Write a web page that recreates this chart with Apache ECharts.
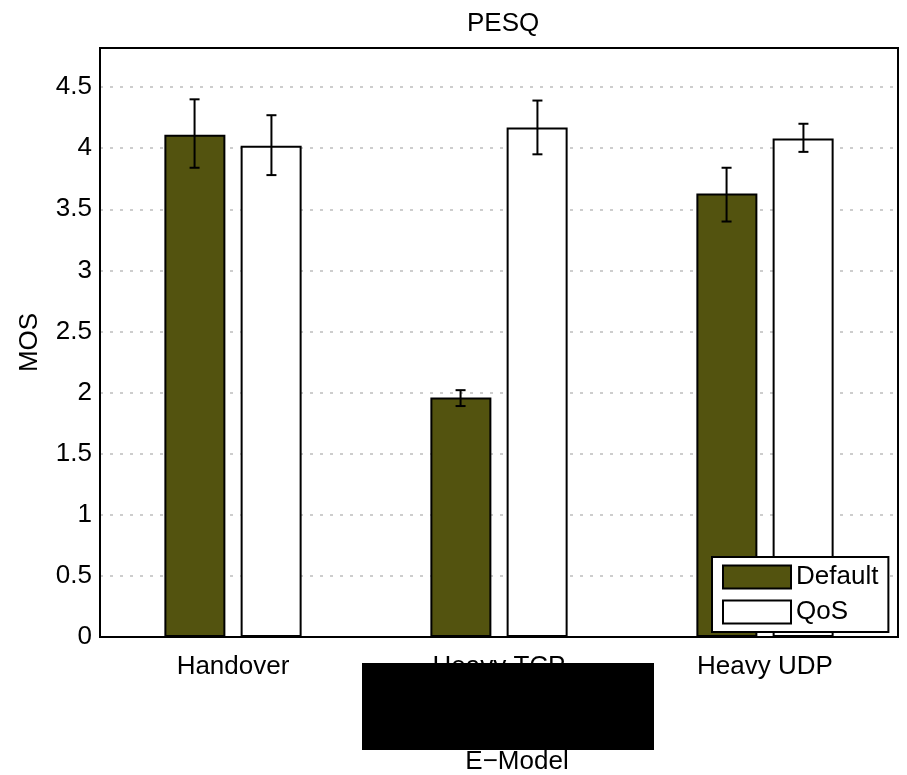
<!DOCTYPE html>
<html>
<head>
<meta charset="utf-8">
<script src="https://cdn.jsdelivr.net/npm/echarts@6/dist/echarts.min.js"></script>
<style>
html,body{margin:0;padding:0;background:#fff;}
#chart{width:907px;height:775px;}
</style>
</head>
<body>
<div id="chart"></div>
<script>
var categories = ['Handover', 'Heavy TCP', 'Heavy UDP'];
var defaultVals = [4.11, 1.96, 3.63];
var defaultLow = [3.84, 1.89, 3.40];
var defaultHigh = [4.40, 2.02, 3.84];
var qosVals = [4.02, 4.17, 4.08];
var qosLow = [3.78, 3.95, 3.97];
var qosHigh = [4.27, 4.39, 4.20];
var yTicks = [0, 0.5, 1, 1.5, 2, 2.5, 3, 3.5, 4, 4.5];

var FONT = "'Liberation Sans', Helvetica, Arial, sans-serif";
var OLIVE = '#53530f';
var FS = 26;

function errData(lo, hi) {
  return lo.map(function (v, i) { return [i, v, hi[i]]; });
}
function errRender(offsetFrac) {
  return function (params, api) {
    var idx = api.value(0);
    var band = api.size([1, 0])[0];
    var top = api.coord([idx, api.value(2)]);
    var bot = api.coord([idx, api.value(1)]);
    var x = top[0] + offsetFrac * band;
    var cap = 5;
    var st = { stroke: '#000', lineWidth: 2 };
    return {
      type: 'group',
      children: [
        { type: 'line', shape: { x1: x, y1: top[1], x2: x, y2: bot[1] }, style: st },
        { type: 'line', shape: { x1: x - cap, y1: top[1], x2: x + cap, y2: top[1] }, style: st },
        { type: 'line', shape: { x1: x - cap, y1: bot[1], x2: x + cap, y2: bot[1] }, style: st }
      ]
    };
  };
}

var chart = echarts.init(document.getElementById('chart'), null, { renderer: 'canvas' });
chart.setOption({
  animation: false,
  backgroundColor: '#fff',
  textStyle: { fontFamily: FONT },
  title: {
    text: 'PESQ', left: 462, top: 6,
    textStyle: { fontFamily: FONT, fontSize: FS, fontWeight: 'normal', color: '#000' }
  },
  grid: { left: 100, right: 9, top: 48, bottom: 138, show: true, borderColor: '#000', borderWidth: 2, containLabel: false },
  legend: {
    orient: 'vertical', left: 712, top: 557,
    data: ['Default', 'QoS'],
    itemWidth: 68, itemHeight: 23, itemGap: 9,
    padding: [7, 10, 7, 10],
    backgroundColor: '#fff', borderColor: '#000', borderWidth: 2,
    icon: 'rect',
    textStyle: { fontFamily: FONT, fontSize: FS, color: '#000', padding: [2, 0, 0, 0] }
  },
  xAxis: {
    type: 'category', data: categories,
    axisLine: { show: true, lineStyle: { color: '#000', width: 2 } },
    axisTick: { show: false },
    axisLabel: { fontFamily: FONT, fontSize: FS, color: '#000', margin: 17 },
    splitLine: { show: false }
  },
  yAxis: {
    type: 'value', min: 0, max: 4.82, interval: 0.5,
    name: 'MOS', nameLocation: 'middle', nameGap: 57, nameRotate: 90,
    nameTextStyle: { fontFamily: FONT, fontSize: FS, color: '#000' },
    axisLine: { show: true, lineStyle: { color: '#000', width: 2 } },
    axisTick: { show: false },
    axisLabel: {
      fontFamily: FONT, fontSize: FS, color: '#000', margin: 8, showMaxLabel: false,
      formatter: function (v) { return yTicks.indexOf(v) >= 0 ? String(v) : ''; }
    },
    splitLine: { show: true, showMaxLine: false, showMinLine: false, lineStyle: { color: '#bdbdbd', width: 1.5, type: [3, 7] } }
  },
  series: [
    {
      name: 'Default', type: 'bar', data: defaultVals,
      barWidth: 61, barGap: '25%',
      itemStyle: { color: OLIVE, borderColor: '#000', borderWidth: 2 }
    },
    {
      name: 'QoS', type: 'bar', data: qosVals,
      barWidth: 61, barGap: '25%',
      itemStyle: { color: '#fff', borderColor: '#000', borderWidth: 2 }
    },
    {
      type: 'custom', data: errData(defaultLow, defaultHigh),
      renderItem: errRender(-0.1445), z: 10, silent: true
    },
    {
      type: 'custom', data: errData(qosLow, qosHigh),
      renderItem: errRender(0.1445), z: 10, silent: true
    }
  ],
  graphic: [
    { type: 'rect', shape: { x: 362, y: 663, width: 292, height: 87 }, style: { fill: '#000' }, z: 100 },
    { type: 'text', x: 517, y: 762, style: { text: 'E\u2212Model', font: FS + 'px ' + FONT, fill: '#000', align: 'center', verticalAlign: 'middle' }, z: 100 }
  ]
});
</script>
</body>
</html>
